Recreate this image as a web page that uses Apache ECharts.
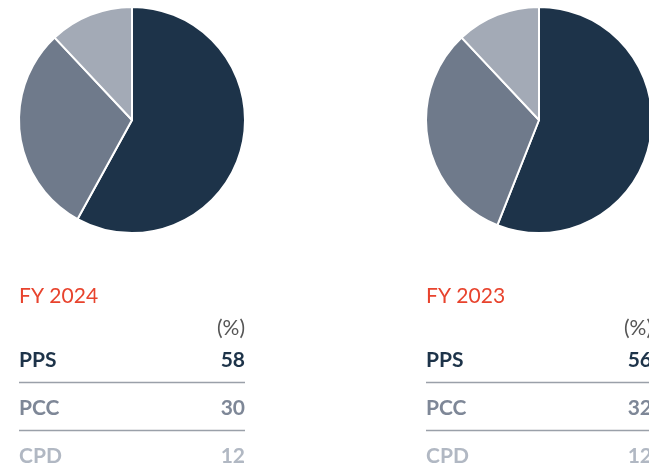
<!DOCTYPE html>
<html>
<head>
<meta charset="utf-8">
<script src="https://cdn.jsdelivr.net/npm/echarts@6/dist/echarts.min.js"></script>
<style>
    html, body { margin: 0; padding: 0; background: #fff; }
    #chart { width: 649px; height: 471px; }
</style>
</head>
<body>
<div id="chart"></div>
<script>
const years = ['FY 2024', 'FY 2023']
const segments = ['PPS', 'PCC', 'CPD']
const share2024 = [58, 30, 12]
const share2023 = [56, 32, 12]
const unitLabel = '(%)'

const sliceColors = ['#1d3349', '#6f7a8b', '#a3aab6']
const textColors = ['#1d3349', '#7e8797', '#b1b8c3']
const font = 'Lato, "Open Sans", sans-serif'

// layout of the two columns
const columns = [
    { year: years[0], values: share2024, cx: 132, left: 19, right: 245 },
    { year: years[1], values: share2023, cx: 539, left: 426, right: 652 }
]

const series = columns.map(col => ({
    type: 'pie',
    center: [col.cx, 120],
    radius: 113,
    startAngle: 90,
    clockwise: true,
    silent: true,
    label: { show: false },
    labelLine: { show: false },
    itemStyle: { borderColor: '#fff', borderWidth: 2 },
    data: segments.map((name, i) => ({
        name: name,
        value: col.values[i],
        itemStyle: { color: sliceColors[i] }
    }))
}))

const rowY = [360, 408, 456]
const graphic = []
columns.forEach(col => {
    graphic.push({
        type: 'text', x: col.left, y: 296,
        style: { text: col.year, fill: '#e8432d', font: '400 21px ' + font, verticalAlign: 'middle' }
    })
    graphic.push({
        type: 'text', x: col.right, y: 328,
        style: { text: unitLabel, fill: '#555', font: '400 21px ' + font, align: 'right', verticalAlign: 'middle' }
    })
    segments.forEach((name, i) => {
        graphic.push({
            type: 'text', x: col.left, y: rowY[i],
            style: { text: name, fill: textColors[i], font: '700 21px ' + font, verticalAlign: 'middle' }
        })
        graphic.push({
            type: 'text', x: col.right, y: rowY[i],
            style: { text: String(col.values[i]), fill: textColors[i], font: '700 21px ' + font, align: 'right', verticalAlign: 'middle' }
        })
        if (i < segments.length - 1) {
            const ly = (rowY[i] + rowY[i + 1]) / 2 - 1.5
            graphic.push({
                type: 'line',
                shape: { x1: col.left, y1: ly, x2: col.right, y2: ly },
                style: { stroke: '#9aa0a9', lineWidth: 1.3 }
            })
        }
    })
})

const chart = echarts.init(document.getElementById('chart'))
chart.setOption({
    animation: false,
    backgroundColor: '#fff',
    series: series,
    graphic: graphic
})
</script>
</body>
</html>
